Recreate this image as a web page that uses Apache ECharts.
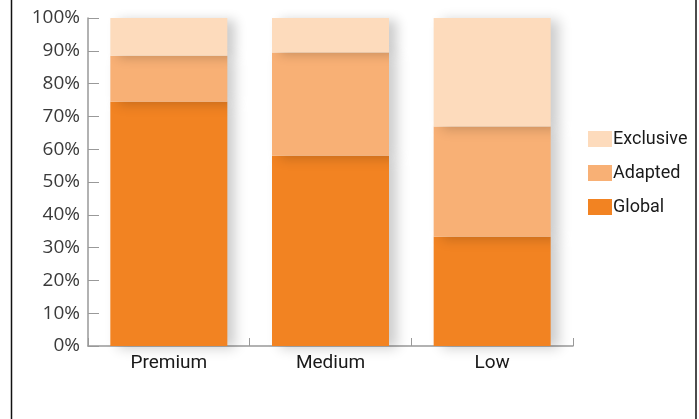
<!DOCTYPE html>
<html>
<head>
<meta charset="utf-8">
<script src="https://cdn.jsdelivr.net/npm/echarts@6/dist/echarts.min.js"></script>
<style>
  html, body { margin: 0; padding: 0; background: #fff; }
  #chart { width: 699px; height: 419px; }
</style>
</head>
<body>
<div id="chart"></div>
<script>
const categories = ['Premium', 'Medium', 'Low'];
const globalValues = [74.5, 58, 33.3];
const adaptedValues = [14, 31.5, 33.6];
const exclusiveValues = [11.5, 10.5, 33.1];
const legendOrder = ['Exclusive', 'Adapted', 'Global'];

const chart = echarts.init(document.getElementById('chart'));

const shadow = {
    shadowColor: 'rgba(0, 0, 0, 0.2)',
    shadowBlur: 12,
    shadowOffsetX: 8,
    shadowOffsetY: 2
};

const option = {
    backgroundColor: '#fff',
    animation: false,
    grid: { left: 88, right: 126, top: 18, bottom: 73 },
    legend: {
        data: legendOrder,
        orient: 'vertical',
        left: 583,
        top: 125,
        itemWidth: 24,
        itemHeight: 16,
        itemGap: 16,
        icon: 'rect',
        textStyle: { fontFamily: 'Roboto', fontSize: 18, color: '#1a1a1a', padding: [0, 0, 0, -4] }
    },
    xAxis: {
        type: 'category',
        data: categories,
        axisLine: { lineStyle: { color: '#999', width: 1.5 } },
        axisTick: { show: true, inside: true, length: 8, lineStyle: { color: '#999' } },
        axisLabel: { fontFamily: 'Roboto', fontSize: 19, color: '#1a1a1a', margin: 8 }
    },
    yAxis: {
        type: 'value',
        min: 0,
        max: 100,
        interval: 10,
        axisLine: { show: true, lineStyle: { color: '#999', width: 1.5 } },
        axisTick: { show: true, inside: true, length: 11, lineStyle: { color: '#999' } },
        splitLine: { show: false },
        axisLabel: {
            formatter: '{value}%',
            fontFamily: 'Open Sans',
            fontSize: 19,
            color: '#3a3a3a',
            margin: 8
        }
    },
    series: [
        {
            name: 'Global',
            type: 'bar',
            stack: 'total',
            barWidth: 117,
            itemStyle: Object.assign({ color: '#f28322' }, shadow),
            data: globalValues
        },
        {
            name: 'Adapted',
            type: 'bar',
            stack: 'total',
            itemStyle: Object.assign({ color: '#f8b075' }, shadow),
            data: adaptedValues
        },
        {
            name: 'Exclusive',
            type: 'bar',
            stack: 'total',
            itemStyle: Object.assign({ color: '#fddbbc' }, shadow),
            data: exclusiveValues
        }
    ],
    graphic: [
        { type: 'line', shape: { x1: 11.5, y1: 0, x2: 11.5, y2: 419 }, style: { stroke: '#111', lineWidth: 1.5 } },
        { type: 'line', shape: { x1: 696, y1: 0, x2: 696, y2: 419 }, style: { stroke: '#111', lineWidth: 1.5 } }
    ]
};

chart.setOption(option);
</script>
</body>
</html>
